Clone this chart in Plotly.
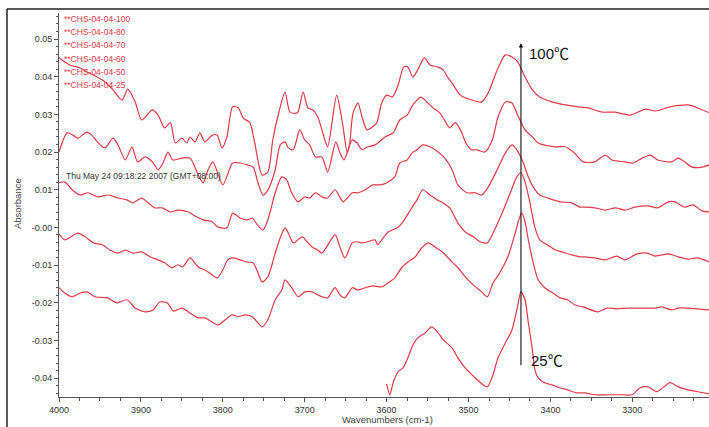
import plotly.graph_objects as go

# ---------------- data ----------------
wn_100 = [4000, 3987, 3974, 3965, 3947, 3934, 3923, 3916, 3907, 3899, 3886, 3879, 3871, 3864, 3858, 3850, 3844, 3840,
          3834, 3828, 3822, 3813, 3807, 3801, 3795, 3788, 3781, 3775, 3767, 3761, 3752, 3745, 3739, 3733, 3724, 3718,
          3709, 3702, 3696, 3690, 3684, 3679, 3672, 3661, 3654, 3648, 3645, 3641, 3635, 3630, 3624, 3617, 3612, 3606,
          3600, 3593, 3586, 3579, 3574, 3568, 3562, 3554, 3547, 3538, 3531, 3525, 3520, 3510, 3496, 3484, 3476, 3465,
          3455, 3447, 3440, 3431, 3422, 3413, 3398, 3382, 3366, 3354, 3337, 3321, 3303, 3284, 3272, 3254, 3232, 3220, 3206]
ab_100 = [0.0450, 0.0431, 0.0423, 0.0412, 0.0391, 0.0365, 0.0338, 0.0367, 0.0333, 0.0285, 0.0312, 0.0298, 0.0264,
          0.0278, 0.0224, 0.0237, 0.0224, 0.0240, 0.0227, 0.0251, 0.0227, 0.0245, 0.0245, 0.0211, 0.0240, 0.0320,
          0.0317, 0.0290, 0.0278, 0.0224, 0.0139, 0.0147, 0.0232, 0.0293, 0.0359, 0.0306, 0.0304, 0.0359, 0.0317,
          0.0312, 0.0293, 0.0259, 0.0214, 0.0351, 0.0278, 0.0198, 0.0224, 0.0304, 0.0330, 0.0293, 0.0259, 0.0267,
          0.0278, 0.0330, 0.0351, 0.0346, 0.0378, 0.0426, 0.0426, 0.0399, 0.0418, 0.0450, 0.0431, 0.0426, 0.0418,
          0.0397, 0.0383, 0.0351, 0.0338, 0.0333, 0.0357, 0.0418, 0.0458, 0.0452, 0.0439, 0.0399, 0.0365, 0.0346,
          0.0333, 0.0325, 0.0320, 0.0317, 0.0306, 0.0306, 0.0298, 0.0314, 0.0309, 0.0320, 0.0325, 0.0317, 0.0304]

wn_80 = [4000, 3990, 3983, 3977, 3966, 3960, 3952, 3944, 3934, 3928, 3919, 3911, 3904, 3895, 3886, 3879, 3873, 3867,
         3861, 3850, 3840, 3830, 3824, 3818, 3812, 3800, 3788, 3779, 3770, 3763, 3757, 3751, 3745, 3736, 3730, 3724,
         3720, 3714, 3706, 3700, 3694, 3687, 3679, 3672, 3662, 3657, 3652, 3642, 3636, 3630, 3623, 3614, 3602, 3592,
         3584, 3575, 3568, 3558, 3551, 3543, 3535, 3526, 3523, 3516, 3510, 3502, 3496, 3490, 3480, 3471, 3464, 3455,
         3447, 3440, 3431, 3422, 3415, 3394, 3382, 3372, 3360, 3346, 3333, 3325, 3309, 3299, 3288, 3278, 3269, 3252,
         3244, 3236, 3227, 3215, 3206]
ab_80 = [0.0200, 0.0251, 0.0245, 0.0237, 0.0253, 0.0245, 0.0224, 0.0211, 0.0237, 0.0219, 0.0179, 0.0214, 0.0174,
         0.0187, 0.0174, 0.0153, 0.0171, 0.0200, 0.0179, 0.0184, 0.0184, 0.0139, 0.0118, 0.0153, 0.0174, 0.0113,
         0.0171, 0.0171, 0.0166, 0.0160, 0.0118, 0.0086, 0.0099, 0.0153, 0.0219, 0.0227, 0.0211, 0.0206, 0.0259,
         0.0232, 0.0219, 0.0187, 0.0187, 0.0147, 0.0227, 0.0198, 0.0179, 0.0232, 0.0224, 0.0206, 0.0214, 0.0219,
         0.0240, 0.0251, 0.0285, 0.0298, 0.0325, 0.0346, 0.0333, 0.0317, 0.0304, 0.0272, 0.0264, 0.0278, 0.0259,
         0.0219, 0.0206, 0.0206, 0.0200, 0.0232, 0.0293, 0.0333, 0.0330, 0.0298, 0.0259, 0.0240, 0.0224, 0.0214,
         0.0214, 0.0200, 0.0174, 0.0174, 0.0192, 0.0179, 0.0174, 0.0171, 0.0184, 0.0192, 0.0179, 0.0174, 0.0184,
         0.0174, 0.0160, 0.0160, 0.0166]

wn_70 = [4000, 3993, 3984, 3974, 3965, 3952, 3940, 3928, 3917, 3910, 3899, 3891, 3883, 3874, 3864, 3855, 3842, 3836,
         3824, 3813, 3806, 3795, 3788, 3779, 3770, 3764, 3758, 3751, 3745, 3736, 3728, 3722, 3716, 3708, 3700, 3694,
         3687, 3679, 3672, 3663, 3653, 3642, 3635, 3626, 3617, 3608, 3600, 3590, 3584, 3575, 3569, 3563, 3556, 3547,
         3537, 3529, 3520, 3513, 3502, 3492, 3484, 3476, 3465, 3455, 3447, 3441, 3433, 3427, 3421, 3413, 3403, 3388,
         3374, 3364, 3358, 3346, 3333, 3321, 3309, 3297, 3281, 3269, 3256, 3248, 3236, 3226, 3215, 3206]
ab_70 = [0.0118, 0.0121, 0.0100, 0.0086, 0.0092, 0.0081, 0.0086, 0.0078, 0.0073, 0.0065, 0.0078, 0.0065, 0.0052,
         0.0052, 0.0041, 0.0046, 0.0041, 0.0033, 0.0020, 0.0015, 0.0001, -0.0001, 0.0038, 0.0025, 0.0020, 0.0025,
         0.0007, -0.0007, 0.0020, 0.0092, 0.0134, 0.0126, 0.0092, 0.0068, 0.0081, 0.0078, 0.0092, 0.0081, 0.0078,
         0.0100, 0.0068, 0.0092, 0.0092, 0.0100, 0.0113, 0.0113, 0.0118, 0.0134, 0.0171, 0.0179, 0.0198, 0.0206,
         0.0219, 0.0214, 0.0200, 0.0184, 0.0153, 0.0113, 0.0092, 0.0092, 0.0086, 0.0107, 0.0153, 0.0198, 0.0219,
         0.0206, 0.0171, 0.0134, 0.0107, 0.0086, 0.0078, 0.0068, 0.0065, 0.0054, 0.0054, 0.0052, 0.0046, 0.0052,
         0.0046, 0.0054, 0.0057, 0.0052, 0.0068, 0.0068, 0.0054, 0.0060, 0.0044, 0.0041]

wn_60 = [4000, 3993, 3977, 3968, 3958, 3947, 3938, 3928, 3919, 3910, 3899, 3889, 3879, 3871, 3862, 3855, 3849, 3840,
         3830, 3822, 3816, 3807, 3800, 3794, 3788, 3779, 3770, 3763, 3757, 3752, 3745, 3736, 3730, 3724, 3720, 3714,
         3703, 3697, 3691, 3684, 3679, 3663, 3657, 3651, 3642, 3636, 3630, 3623, 3614, 3611, 3606, 3598, 3587, 3580,
         3571, 3563, 3556, 3547, 3538, 3531, 3523, 3513, 3504, 3494, 3486, 3477, 3470, 3459, 3449, 3441, 3436, 3431,
         3425, 3419, 3413, 3404, 3394, 3386, 3374, 3364, 3358, 3346, 3333, 3319, 3309, 3294, 3282, 3272, 3256, 3244,
         3232, 3220, 3206]
ab_60 = [-0.0017, -0.0033, -0.0015, -0.0025, -0.0041, -0.0046, -0.0060, -0.0068, -0.0060, -0.0068, -0.0065, -0.0078,
         -0.0086, -0.0094, -0.0107, -0.0099, -0.0105, -0.0081, -0.0105, -0.0113, -0.0121, -0.0134, -0.0113, -0.0086,
         -0.0081, -0.0086, -0.0092, -0.0094, -0.0121, -0.0145, -0.0131, -0.0068, -0.0028, -0.0001, -0.0015, -0.0041,
         -0.0025, -0.0038, -0.0052, -0.0060, -0.0068, -0.0020, -0.0052, -0.0081, -0.0041, -0.0038, -0.0041, -0.0038,
         -0.0033, -0.0046, -0.0033, -0.0012, -0.0001, 0.0015, 0.0046, 0.0073, 0.0100, 0.0086, 0.0073, 0.0065, 0.0052,
         0.0012, -0.0012, -0.0025, -0.0038, -0.0041, -0.0015, 0.0038, 0.0092, 0.0134, 0.0145, 0.0121, 0.0065, 0.0001,
         -0.0033, -0.0046, -0.0060, -0.0065, -0.0073, -0.0078, -0.0078, -0.0081, -0.0086, -0.0076, -0.0086, -0.0070,
         -0.0068, -0.0076, -0.0070, -0.0078, -0.0084, -0.0081, -0.0092]

wn_50 = [4000, 3993, 3984, 3974, 3966, 3956, 3941, 3929, 3917, 3907, 3895, 3885, 3877, 3868, 3860, 3850, 3840, 3830,
         3822, 3813, 3806, 3797, 3789, 3781, 3773, 3764, 3758, 3752, 3745, 3736, 3728, 3724, 3716, 3708, 3700, 3691,
         3684, 3679, 3672, 3663, 3657, 3651, 3642, 3635, 3626, 3617, 3606, 3598, 3590, 3581, 3574, 3565, 3557, 3549,
         3541, 3532, 3520, 3513, 3504, 3494, 3484, 3477, 3470, 3462, 3452, 3443, 3438, 3435, 3431, 3427, 3421, 3415,
         3407, 3397, 3388, 3379, 3370, 3360, 3342, 3331, 3319, 3305, 3288, 3272, 3264, 3252, 3244, 3232, 3220, 3206]
ab_50 = [-0.0160, -0.0174, -0.0184, -0.0174, -0.0171, -0.0184, -0.0187, -0.0200, -0.0192, -0.0214, -0.0224, -0.0219,
         -0.0198, -0.0200, -0.0222, -0.0214, -0.0227, -0.0240, -0.0240, -0.0251, -0.0259, -0.0245, -0.0232, -0.0237,
         -0.0232, -0.0237, -0.0251, -0.0264, -0.0245, -0.0192, -0.0166, -0.0139, -0.0160, -0.0184, -0.0171, -0.0171,
         -0.0179, -0.0184, -0.0187, -0.0160, -0.0179, -0.0187, -0.0160, -0.0166, -0.0160, -0.0155, -0.0158, -0.0147,
         -0.0134, -0.0105, -0.0092, -0.0078, -0.0054, -0.0041, -0.0052, -0.0065, -0.0092, -0.0107, -0.0131, -0.0153,
         -0.0171, -0.0184, -0.0147, -0.0121, -0.0078, -0.0015, 0.0025, 0.0038, 0.0015, -0.0033, -0.0094, -0.0139,
         -0.0160, -0.0174, -0.0187, -0.0192, -0.0206, -0.0211, -0.0224, -0.0214, -0.0216, -0.0214, -0.0214, -0.0214,
         -0.0211, -0.0219, -0.0214, -0.0214, -0.0216, -0.0219]

wn_25 = [3600, 3596, 3592, 3586, 3580, 3574, 3568, 3562, 3553, 3545, 3538, 3531, 3520, 3513, 3504, 3492, 3482, 3477,
         3471, 3464, 3455, 3447, 3441, 3436, 3431, 3427, 3422, 3419, 3415, 3407, 3398, 3388, 3379, 3368, 3358, 3346,
         3330, 3313, 3300, 3291, 3281, 3270, 3254, 3244, 3232, 3220, 3206]
ab_25 = [-0.0415, -0.0444, -0.0412, -0.0383, -0.0373, -0.0346, -0.0312, -0.0293, -0.0280, -0.0264, -0.0277, -0.0298,
         -0.0320, -0.0346, -0.0373, -0.0399, -0.0418, -0.0423, -0.0397, -0.0346, -0.0306, -0.0272, -0.0219, -0.0171,
         -0.0192, -0.0253, -0.0325, -0.0378, -0.0399, -0.0412, -0.0418, -0.0426, -0.0431, -0.0439, -0.0439, -0.0444,
         -0.0444, -0.0444, -0.0444, -0.0426, -0.0423, -0.0436, -0.0412, -0.0423, -0.0431, -0.0436, -0.0442]

series_names = ["**CHS-04-04-100", "**CHS-04-04-80", "**CHS-04-04-70",
                "**CHS-04-04-60", "**CHS-04-04-50", "**CHS-04-04-25"]
series_x = [wn_100, wn_80, wn_70, wn_60, wn_50, wn_25]
series_y = [ab_100, ab_80, ab_70, ab_60, ab_50, ab_25]

y_tickvals = [0.05, 0.04, 0.03, 0.02, 0.01, 0.0, -0.01, -0.02, -0.03, -0.04]
y_ticktext = ["0.05", "0.04", "0.03", "0.02", "0.01", "-0.00", "-0.01", "-0.02", "-0.03", "-0.04"]
x_tickvals = [4000, 3900, 3800, 3700, 3600, 3500, 3400, 3300]

arrow_wn = 3436
arrow_bottom = -0.0370
arrow_top = 0.0489
label_hot = "100℃"
label_cold = "25℃"
timestamp = "Thu May 24 09:18:22 2007 (GMT+08:00)"

# ---------------- figure ----------------
RED = "#e23a46"
AX = "#555555"
FONT = "Liberation Sans, Arial, sans-serif"

fig = go.Figure()
for name, xs, ys in zip(series_names, series_x, series_y):
    fig.add_trace(go.Scatter(x=xs, y=ys, mode="lines", name=name,
                             line=dict(color=RED, width=1.2, shape="spline", smoothing=0.7),
                             showlegend=False))

W, H = 709, 427
ml, mr, mt, mb = 59, 0, 13, 30
pw, ph = W - ml - mr, H - mt - mb

def px(xp):
    return (xp - ml) / pw

def py(yp):
    return (H - mb - yp) / ph

annotations = []
for i, name in enumerate(series_names):
    annotations.append(dict(x=px(62), y=py(19 + i * 13.2), xref="paper", yref="paper",
                            text=name, showarrow=False, xanchor="left", yanchor="middle",
                            font=dict(family=FONT, size=8.5, color=RED)))
annotations.append(dict(x=px(64), y=py(176), xref="paper", yref="paper", text=timestamp,
                        showarrow=False, xanchor="left", yanchor="middle",
                        font=dict(family=FONT, size=8.5, color="#333333")))
annotations.append(dict(x=px(17), y=py(204), xref="paper", yref="paper", text="Absorbance",
                        showarrow=False, textangle=-90, xanchor="center", yanchor="middle",
                        font=dict(family=FONT, size=9.5, color="#444444")))
annotations.append(dict(x=px(387), y=py(419), xref="paper", yref="paper", text="Wavenumbers (cm-1)",
                        showarrow=False, xanchor="center", yanchor="middle",
                        font=dict(family=FONT, size=9.5, color="#444444")))
# vertical arrow
annotations.append(dict(x=arrow_wn, y=arrow_top, ax=arrow_wn, ay=arrow_bottom, xref="x", yref="y",
                        axref="x", ayref="y", text="", showarrow=True, arrowhead=2, arrowsize=0.8,
                        arrowwidth=1.1, arrowcolor="#111111", startstandoff=0))
annotations.append(dict(x=arrow_wn, y=arrow_top, xref="x", yref="y", text=label_hot, showarrow=False,
                        xanchor="left", yanchor="middle", xshift=6, yshift=-10,
                        font=dict(family="Liberation Sans, Noto Sans CJK SC", size=15, color="#111111")))
annotations.append(dict(x=arrow_wn, y=arrow_bottom, xref="x", yref="y", text=label_cold, showarrow=False,
                        xanchor="left", yanchor="middle", xshift=8, yshift=6,
                        font=dict(family="Liberation Sans, Noto Sans CJK SC", size=15, color="#111111")))

shapes = [
    dict(type="line", xref="paper", yref="paper", x0=px(7), x1=px(709), y0=py(9), y1=py(9),
         line=dict(color="#222222", width=1.5)),
    dict(type="line", xref="paper", yref="paper", x0=px(7), x1=px(7), y0=py(9), y1=py(427),
         line=dict(color="#222222", width=1.5)),
]

fig.update_layout(
    width=W, height=H,
    margin=dict(l=ml, r=mr, t=mt, b=mb, pad=0),
    paper_bgcolor="white", plot_bgcolor="white",
    font=dict(family=FONT, size=9, color="#333333"),
    annotations=annotations, shapes=shapes,
    showlegend=False,
)
fig.update_xaxes(range=[4000, 3206.4], autorange=False, showgrid=False, zeroline=False,
                 showline=True, linecolor=AX, linewidth=1,
                 tickvals=x_tickvals, ticks="outside", ticklen=4, tickcolor=AX,
                 minor=dict(dtick=25, tick0=4000, ticks="outside", ticklen=3, tickcolor=AX),
                 tickfont=dict(family=FONT, size=9, color="#333333"))
fig.update_yaxes(range=[-0.045, 0.0569], autorange=False, showgrid=False, zeroline=False,
                 showline=True, linecolor=AX, linewidth=1,
                 tickvals=y_tickvals, ticktext=y_ticktext, ticks="outside", ticklen=4, tickcolor=AX,
                 minor=dict(dtick=0.002, tick0=0, ticks="outside", ticklen=2, tickcolor=AX),
                 tickfont=dict(family=FONT, size=9, color="#333333"))

fig.write_html("out.html", config={"displayModeBar": False},
               post_script="document.body.style.margin='0px';document.body.style.overflow='hidden';")
